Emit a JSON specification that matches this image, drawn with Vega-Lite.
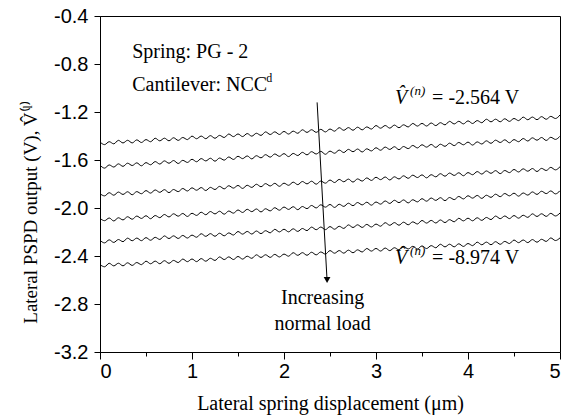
{
  "$schema": "https://vega.github.io/schema/vega-lite/v6.json",
  "width": 460,
  "height": 336,
  "autosize": {"type": "none"},
  "padding": {"left": 100, "top": 16, "right": 12, "bottom": 66},
  "background": "white",
  "config": {
    "view": {"stroke": "black", "strokeWidth": 1},
    "axis": {
      "grid": false,
      "domainColor": "black",
      "domainWidth": 1,
      "tickColor": "black",
      "tickWidth": 1,
      "labelColor": "black",
      "labelFont": "Liberation Sans",
      "labelFontSize": 20,
      "titleFont": "Liberation Serif",
      "titleFontSize": 20,
      "titleFontWeight": "normal",
      "titleColor": "black"
    },
    "text": {"font": "Liberation Serif", "color": "black"}
  },
  "datasets": {
    "curves": [
      {"x":0,"a":-1.45,"b":-1.643,"c":-1.881,"d":-2.086,"e":-2.269,"f":-2.472},
      {"x":0.05,"a":-1.4718,"b":-1.6676,"c":-1.8988,"d":-2.1057,"e":-2.2907,"f":-2.4898},
      {"x":0.1,"a":-1.4476,"b":-1.6412,"c":-1.8726,"d":-2.0833,"e":-2.2654,"f":-2.4606},
      {"x":0.15,"a":-1.4654,"b":-1.6588,"c":-1.8934,"d":-2.108,"e":-2.2871,"f":-2.4824},
      {"x":0.2,"a":-1.4362,"b":-1.6324,"c":-1.8672,"d":-2.0816,"e":-2.2628,"f":-2.4602},
      {"x":0.25,"a":-1.458,"b":-1.653,"c":-1.887,"d":-2.0993,"e":-2.2805,"f":-2.482},
      {"x":0.3,"a":-1.4358,"b":-1.6266,"c":-1.8648,"d":-2.0729,"e":-2.2512,"f":-2.4568},
      {"x":0.35,"a":-1.4576,"b":-1.6462,"c":-1.8896,"d":-2.0936,"e":-2.2729,"f":-2.4786},
      {"x":0.4,"a":-1.4324,"b":-1.6238,"c":-1.8634,"d":-2.0672,"e":-2.2506,"f":-2.4544},
      {"x":0.45,"a":-1.4542,"b":-1.6484,"c":-1.8812,"d":-2.0869,"e":-2.2723,"f":-2.4722},
      {"x":0.5,"a":-1.43,"b":-1.622,"c":-1.855,"d":-2.0645,"e":-2.247,"f":-2.443},
      {"x":0.55,"a":-1.4478,"b":-1.6396,"c":-1.8758,"d":-2.0892,"e":-2.2687,"f":-2.4648},
      {"x":0.6,"a":-1.4186,"b":-1.6132,"c":-1.8496,"d":-2.0628,"e":-2.2444,"f":-2.4426},
      {"x":0.65,"a":-1.4404,"b":-1.6338,"c":-1.8694,"d":-2.0805,"e":-2.2621,"f":-2.4644},
      {"x":0.7,"a":-1.4182,"b":-1.6074,"c":-1.8472,"d":-2.0541,"e":-2.2328,"f":-2.4392},
      {"x":0.75,"a":-1.44,"b":-1.627,"c":-1.872,"d":-2.0748,"e":-2.2545,"f":-2.461},
      {"x":0.8,"a":-1.4148,"b":-1.6046,"c":-1.8458,"d":-2.0484,"e":-2.2322,"f":-2.4368},
      {"x":0.85,"a":-1.4366,"b":-1.6292,"c":-1.8636,"d":-2.0681,"e":-2.2539,"f":-2.4546},
      {"x":0.9,"a":-1.4124,"b":-1.6028,"c":-1.8374,"d":-2.0457,"e":-2.2286,"f":-2.4254},
      {"x":0.95,"a":-1.4302,"b":-1.6204,"c":-1.8582,"d":-2.0704,"e":-2.2503,"f":-2.4472},
      {"x":1.0,"a":-1.401,"b":-1.594,"c":-1.832,"d":-2.044,"e":-2.226,"f":-2.425},
      {"x":1.05,"a":-1.4228,"b":-1.6146,"c":-1.8518,"d":-2.0617,"e":-2.2437,"f":-2.4468},
      {"x":1.1,"a":-1.4006,"b":-1.5882,"c":-1.8296,"d":-2.0353,"e":-2.2144,"f":-2.4216},
      {"x":1.15,"a":-1.4224,"b":-1.6078,"c":-1.8544,"d":-2.056,"e":-2.2361,"f":-2.4434},
      {"x":1.2,"a":-1.3972,"b":-1.5854,"c":-1.8282,"d":-2.0296,"e":-2.2138,"f":-2.4192},
      {"x":1.25,"a":-1.419,"b":-1.61,"c":-1.846,"d":-2.0493,"e":-2.2355,"f":-2.437},
      {"x":1.3,"a":-1.3948,"b":-1.5836,"c":-1.8198,"d":-2.0269,"e":-2.2102,"f":-2.4078},
      {"x":1.35,"a":-1.4126,"b":-1.6012,"c":-1.8406,"d":-2.0516,"e":-2.2319,"f":-2.4296},
      {"x":1.4,"a":-1.3834,"b":-1.5748,"c":-1.8144,"d":-2.0252,"e":-2.2076,"f":-2.4074},
      {"x":1.45,"a":-1.4052,"b":-1.5954,"c":-1.8342,"d":-2.0429,"e":-2.2253,"f":-2.4292},
      {"x":1.5,"a":-1.383,"b":-1.569,"c":-1.812,"d":-2.0165,"e":-2.196,"f":-2.404},
      {"x":1.55,"a":-1.4048,"b":-1.5886,"c":-1.8368,"d":-2.0372,"e":-2.2177,"f":-2.4258},
      {"x":1.6,"a":-1.3796,"b":-1.5662,"c":-1.8106,"d":-2.0108,"e":-2.1954,"f":-2.4016},
      {"x":1.65,"a":-1.4014,"b":-1.5908,"c":-1.8284,"d":-2.0305,"e":-2.2171,"f":-2.4194},
      {"x":1.7,"a":-1.3772,"b":-1.5644,"c":-1.8022,"d":-2.0081,"e":-2.1918,"f":-2.3902},
      {"x":1.75,"a":-1.395,"b":-1.582,"c":-1.823,"d":-2.0328,"e":-2.2135,"f":-2.412},
      {"x":1.8,"a":-1.3658,"b":-1.5556,"c":-1.7968,"d":-2.0064,"e":-2.1892,"f":-2.3898},
      {"x":1.85,"a":-1.3876,"b":-1.5762,"c":-1.8166,"d":-2.0241,"e":-2.2069,"f":-2.4116},
      {"x":1.9,"a":-1.3654,"b":-1.5498,"c":-1.7944,"d":-1.9977,"e":-2.1776,"f":-2.3864},
      {"x":1.95,"a":-1.3872,"b":-1.5694,"c":-1.8192,"d":-2.0184,"e":-2.1993,"f":-2.4082},
      {"x":2.0,"a":-1.362,"b":-1.547,"c":-1.793,"d":-1.992,"e":-2.177,"f":-2.384},
      {"x":2.05,"a":-1.3838,"b":-1.5716,"c":-1.8108,"d":-2.0117,"e":-2.1987,"f":-2.4018},
      {"x":2.1,"a":-1.3596,"b":-1.5452,"c":-1.7846,"d":-1.9893,"e":-2.1734,"f":-2.3726},
      {"x":2.15,"a":-1.3774,"b":-1.5628,"c":-1.8054,"d":-2.014,"e":-2.1951,"f":-2.3944},
      {"x":2.2,"a":-1.3482,"b":-1.5364,"c":-1.7792,"d":-1.9876,"e":-2.1708,"f":-2.3722},
      {"x":2.25,"a":-1.37,"b":-1.557,"c":-1.799,"d":-2.0053,"e":-2.1885,"f":-2.394},
      {"x":2.3,"a":-1.3478,"b":-1.5306,"c":-1.7768,"d":-1.9789,"e":-2.1592,"f":-2.3688},
      {"x":2.35,"a":-1.3696,"b":-1.5502,"c":-1.8016,"d":-1.9996,"e":-2.1809,"f":-2.3906},
      {"x":2.4,"a":-1.3444,"b":-1.5278,"c":-1.7754,"d":-1.9732,"e":-2.1586,"f":-2.3664},
      {"x":2.45,"a":-1.3662,"b":-1.5524,"c":-1.7932,"d":-1.9929,"e":-2.1803,"f":-2.3842},
      {"x":2.5,"a":-1.342,"b":-1.526,"c":-1.767,"d":-1.9705,"e":-2.155,"f":-2.355},
      {"x":2.55,"a":-1.3598,"b":-1.5436,"c":-1.7878,"d":-1.9952,"e":-2.1767,"f":-2.3768},
      {"x":2.6,"a":-1.3306,"b":-1.5172,"c":-1.7616,"d":-1.9688,"e":-2.1524,"f":-2.3546},
      {"x":2.65,"a":-1.3524,"b":-1.5378,"c":-1.7814,"d":-1.9865,"e":-2.1701,"f":-2.3764},
      {"x":2.7,"a":-1.3302,"b":-1.5114,"c":-1.7592,"d":-1.9601,"e":-2.1408,"f":-2.3512},
      {"x":2.75,"a":-1.352,"b":-1.531,"c":-1.784,"d":-1.9808,"e":-2.1625,"f":-2.373},
      {"x":2.8,"a":-1.3268,"b":-1.5086,"c":-1.7578,"d":-1.9544,"e":-2.1402,"f":-2.3488},
      {"x":2.85,"a":-1.3486,"b":-1.5332,"c":-1.7756,"d":-1.9741,"e":-2.1619,"f":-2.3666},
      {"x":2.9,"a":-1.3244,"b":-1.5068,"c":-1.7494,"d":-1.9517,"e":-2.1366,"f":-2.3374},
      {"x":2.95,"a":-1.3422,"b":-1.5244,"c":-1.7702,"d":-1.9764,"e":-2.1583,"f":-2.3592},
      {"x":3.0,"a":-1.313,"b":-1.498,"c":-1.744,"d":-1.95,"e":-2.134,"f":-2.337},
      {"x":3.05,"a":-1.3348,"b":-1.5186,"c":-1.7638,"d":-1.9677,"e":-2.1517,"f":-2.3588},
      {"x":3.1,"a":-1.3126,"b":-1.4922,"c":-1.7416,"d":-1.9413,"e":-2.1224,"f":-2.3336},
      {"x":3.15,"a":-1.3344,"b":-1.5118,"c":-1.7664,"d":-1.962,"e":-2.1441,"f":-2.3554},
      {"x":3.2,"a":-1.3092,"b":-1.4894,"c":-1.7402,"d":-1.9356,"e":-2.1218,"f":-2.3312},
      {"x":3.25,"a":-1.331,"b":-1.514,"c":-1.758,"d":-1.9553,"e":-2.1435,"f":-2.349},
      {"x":3.3,"a":-1.3068,"b":-1.4876,"c":-1.7318,"d":-1.9329,"e":-2.1182,"f":-2.3198},
      {"x":3.35,"a":-1.3246,"b":-1.5052,"c":-1.7526,"d":-1.9576,"e":-2.1399,"f":-2.3416},
      {"x":3.4,"a":-1.2954,"b":-1.4788,"c":-1.7264,"d":-1.9312,"e":-2.1156,"f":-2.3194},
      {"x":3.45,"a":-1.3172,"b":-1.4994,"c":-1.7462,"d":-1.9489,"e":-2.1333,"f":-2.3412},
      {"x":3.5,"a":-1.295,"b":-1.473,"c":-1.724,"d":-1.9225,"e":-2.104,"f":-2.316},
      {"x":3.55,"a":-1.3168,"b":-1.4926,"c":-1.7488,"d":-1.9432,"e":-2.1257,"f":-2.3378},
      {"x":3.6,"a":-1.2916,"b":-1.4702,"c":-1.7226,"d":-1.9168,"e":-2.1034,"f":-2.3136},
      {"x":3.65,"a":-1.3134,"b":-1.4948,"c":-1.7404,"d":-1.9365,"e":-2.1251,"f":-2.3314},
      {"x":3.7,"a":-1.2892,"b":-1.4684,"c":-1.7142,"d":-1.9141,"e":-2.0998,"f":-2.3022},
      {"x":3.75,"a":-1.307,"b":-1.486,"c":-1.735,"d":-1.9388,"e":-2.1215,"f":-2.324},
      {"x":3.8,"a":-1.2778,"b":-1.4596,"c":-1.7088,"d":-1.9124,"e":-2.0972,"f":-2.3018},
      {"x":3.85,"a":-1.2996,"b":-1.4802,"c":-1.7286,"d":-1.9301,"e":-2.1149,"f":-2.3236},
      {"x":3.9,"a":-1.2774,"b":-1.4538,"c":-1.7064,"d":-1.9037,"e":-2.0856,"f":-2.2984},
      {"x":3.95,"a":-1.2992,"b":-1.4734,"c":-1.7312,"d":-1.9244,"e":-2.1073,"f":-2.3202},
      {"x":4.0,"a":-1.274,"b":-1.451,"c":-1.705,"d":-1.898,"e":-2.085,"f":-2.296},
      {"x":4.05,"a":-1.2958,"b":-1.4756,"c":-1.7228,"d":-1.9177,"e":-2.1067,"f":-2.3138},
      {"x":4.1,"a":-1.2716,"b":-1.4492,"c":-1.6966,"d":-1.8953,"e":-2.0814,"f":-2.2846},
      {"x":4.15,"a":-1.2894,"b":-1.4668,"c":-1.7174,"d":-1.92,"e":-2.1031,"f":-2.3064},
      {"x":4.2,"a":-1.2602,"b":-1.4404,"c":-1.6912,"d":-1.8936,"e":-2.0788,"f":-2.2842},
      {"x":4.25,"a":-1.282,"b":-1.461,"c":-1.711,"d":-1.9113,"e":-2.0965,"f":-2.306},
      {"x":4.3,"a":-1.2598,"b":-1.4346,"c":-1.6888,"d":-1.8849,"e":-2.0672,"f":-2.2808},
      {"x":4.35,"a":-1.2816,"b":-1.4542,"c":-1.7136,"d":-1.9056,"e":-2.0889,"f":-2.3026},
      {"x":4.4,"a":-1.2564,"b":-1.4318,"c":-1.6874,"d":-1.8792,"e":-2.0666,"f":-2.2784},
      {"x":4.45,"a":-1.2782,"b":-1.4564,"c":-1.7052,"d":-1.8989,"e":-2.0883,"f":-2.2962},
      {"x":4.5,"a":-1.254,"b":-1.43,"c":-1.679,"d":-1.8765,"e":-2.063,"f":-2.267},
      {"x":4.55,"a":-1.2718,"b":-1.4476,"c":-1.6998,"d":-1.9012,"e":-2.0847,"f":-2.2888},
      {"x":4.6,"a":-1.2426,"b":-1.4212,"c":-1.6736,"d":-1.8748,"e":-2.0604,"f":-2.2666},
      {"x":4.65,"a":-1.2644,"b":-1.4418,"c":-1.6934,"d":-1.8925,"e":-2.0781,"f":-2.2884},
      {"x":4.7,"a":-1.2422,"b":-1.4154,"c":-1.6712,"d":-1.8661,"e":-2.0488,"f":-2.2632},
      {"x":4.75,"a":-1.264,"b":-1.435,"c":-1.696,"d":-1.8868,"e":-2.0705,"f":-2.285},
      {"x":4.8,"a":-1.2388,"b":-1.4126,"c":-1.6698,"d":-1.8604,"e":-2.0482,"f":-2.2608},
      {"x":4.85,"a":-1.2606,"b":-1.4372,"c":-1.6876,"d":-1.8801,"e":-2.0699,"f":-2.2786},
      {"x":4.9,"a":-1.2364,"b":-1.4108,"c":-1.6614,"d":-1.8577,"e":-2.0446,"f":-2.2494},
      {"x":4.95,"a":-1.2542,"b":-1.4284,"c":-1.6822,"d":-1.8824,"e":-2.0663,"f":-2.2712},
      {"x":5.0,"a":-1.225,"b":-1.402,"c":-1.656,"d":-1.856,"e":-2.042,"f":-2.249}
    ],
    "notes": [
      {"x": 0.35, "y": -0.70, "t": "Spring: PG - 2"},
      {"x": 0.35, "y": -0.975, "t": "Cantilever: NCC"}
    ],
    "supd": [
      {"x": 0.35, "y": -0.975, "t": "d"}
    ],
    "center": [
      {"x": 2.42, "y": -2.75, "t": "Increasing"},
      {"x": 2.42, "y": -2.97, "t": "normal load"}
    ],
    "vlab": [
      {"x": 3.61, "y": -1.08, "t": "= -2.564 V"},
      {"x": 3.61, "y": -2.42, "t": "= -8.974 V"}
    ],
    "arrow": [
      {"x": 2.36, "y": -1.12, "x2": 2.468, "y2": -2.6}
    ]
  },
  "layer": [
    {
      "data": {"name": "curves"},
      "transform": [{"fold": ["a", "b", "c", "d", "e", "f"], "as": ["series", "v"]}],
      "mark": {"type": "line", "color": "black", "strokeWidth": 1, "interpolate": "monotone"},
      "encoding": {
        "x": {
          "field": "x", "type": "quantitative",
          "scale": {"domain": [0, 5], "nice": false},
          "axis": {
            "title": "Lateral spring displacement (μm)",
            "values": [0, 0.5, 1, 1.5, 2, 2.5, 3, 3.5, 4, 4.5, 5],
            "labelExpr": "datum.value % 1 == 0 ? format(datum.value, 'd') : ''",
            "tickSize": {"condition": {"test": "datum.value % 1 == 0", "value": 7}, "value": 4},
            "labelPadding": 2,
            "titlePadding": 12
          }
        },
        "y": {
          "field": "v", "type": "quantitative",
          "scale": {"domain": [-3.2, -0.4], "nice": false},
          "axis": {
            "title": "Lateral PSPD output (V), V̂⁽ˡ⁾",
            "values": [-3.2, -3.0, -2.8, -2.6, -2.4, -2.2, -2.0, -1.8, -1.6, -1.4, -1.2, -1.0, -0.8, -0.6, -0.4],
            "labelExpr": "abs(round(datum.value*10)) % 4 == 0 ? replace(format(datum.value, '.1f'), '−', '-') : ''",
            "tickSize": {"condition": {"test": "abs(round(datum.value*10)) % 4 == 0", "value": 6}, "value": 4},
            "labelPadding": 6,
            "titleFontSize": 19,
            "titleX": -70,
            "titleY": 196,
            "titleAngle": -90,
            "titleAlign": "center",
            "titleBaseline": "middle"
          }
        },
        "detail": {"field": "series"}
      }
    },
    {
      "data": {"name": "arrow"},
      "mark": {"type": "rule", "color": "black", "strokeWidth": 1},
      "encoding": {
        "x": {"field": "x", "type": "quantitative"},
        "y": {"field": "y", "type": "quantitative"},
        "x2": {"field": "x2"},
        "y2": {"field": "y2"}
      }
    },
    {
      "data": {"name": "arrow"},
      "mark": {"type": "point", "shape": "triangle-down", "filled": true, "color": "black", "opacity": 1, "size": 45},
      "encoding": {
        "x": {"field": "x2", "type": "quantitative"},
        "y": {"field": "y2", "type": "quantitative"}
      }
    },
    {
      "data": {"name": "notes"},
      "mark": {"type": "text", "align": "left", "baseline": "middle", "fontSize": 20},
      "encoding": {
        "x": {"field": "x", "type": "quantitative"},
        "y": {"field": "y", "type": "quantitative"},
        "text": {"field": "t"}
      }
    },
    {
      "data": {"name": "supd"},
      "mark": {"type": "text", "align": "left", "baseline": "middle", "fontSize": 12, "dx": 134, "dy": -7},
      "encoding": {
        "x": {"field": "x", "type": "quantitative"},
        "y": {"field": "y", "type": "quantitative"},
        "text": {"field": "t"}
      }
    },
    {
      "data": {"name": "center"},
      "mark": {"type": "text", "align": "center", "baseline": "middle", "fontSize": 20},
      "encoding": {
        "x": {"field": "x", "type": "quantitative"},
        "y": {"field": "y", "type": "quantitative"},
        "text": {"field": "t"}
      }
    },
    {
      "data": {"name": "vlab"},
      "mark": {"type": "text", "align": "left", "baseline": "middle", "fontSize": 20},
      "encoding": {
        "x": {"field": "x", "type": "quantitative"},
        "y": {"field": "y", "type": "quantitative"},
        "text": {"field": "t"}
      }
    },
    {
      "data": {"name": "vlab"},
      "mark": {"type": "text", "align": "left", "baseline": "middle", "fontSize": 20, "fontStyle": "italic", "dx": -37},
      "encoding": {
        "x": {"field": "x", "type": "quantitative"},
        "y": {"field": "y", "type": "quantitative"},
        "text": {"value": "V̂"}
      }
    },
    {
      "data": {"name": "vlab"},
      "mark": {"type": "text", "align": "left", "baseline": "middle", "fontSize": 13, "fontStyle": "italic", "dx": -22, "dy": -7},
      "encoding": {
        "x": {"field": "x", "type": "quantitative"},
        "y": {"field": "y", "type": "quantitative"},
        "text": {"value": "(n)"}
      }
    }
  ]
}
